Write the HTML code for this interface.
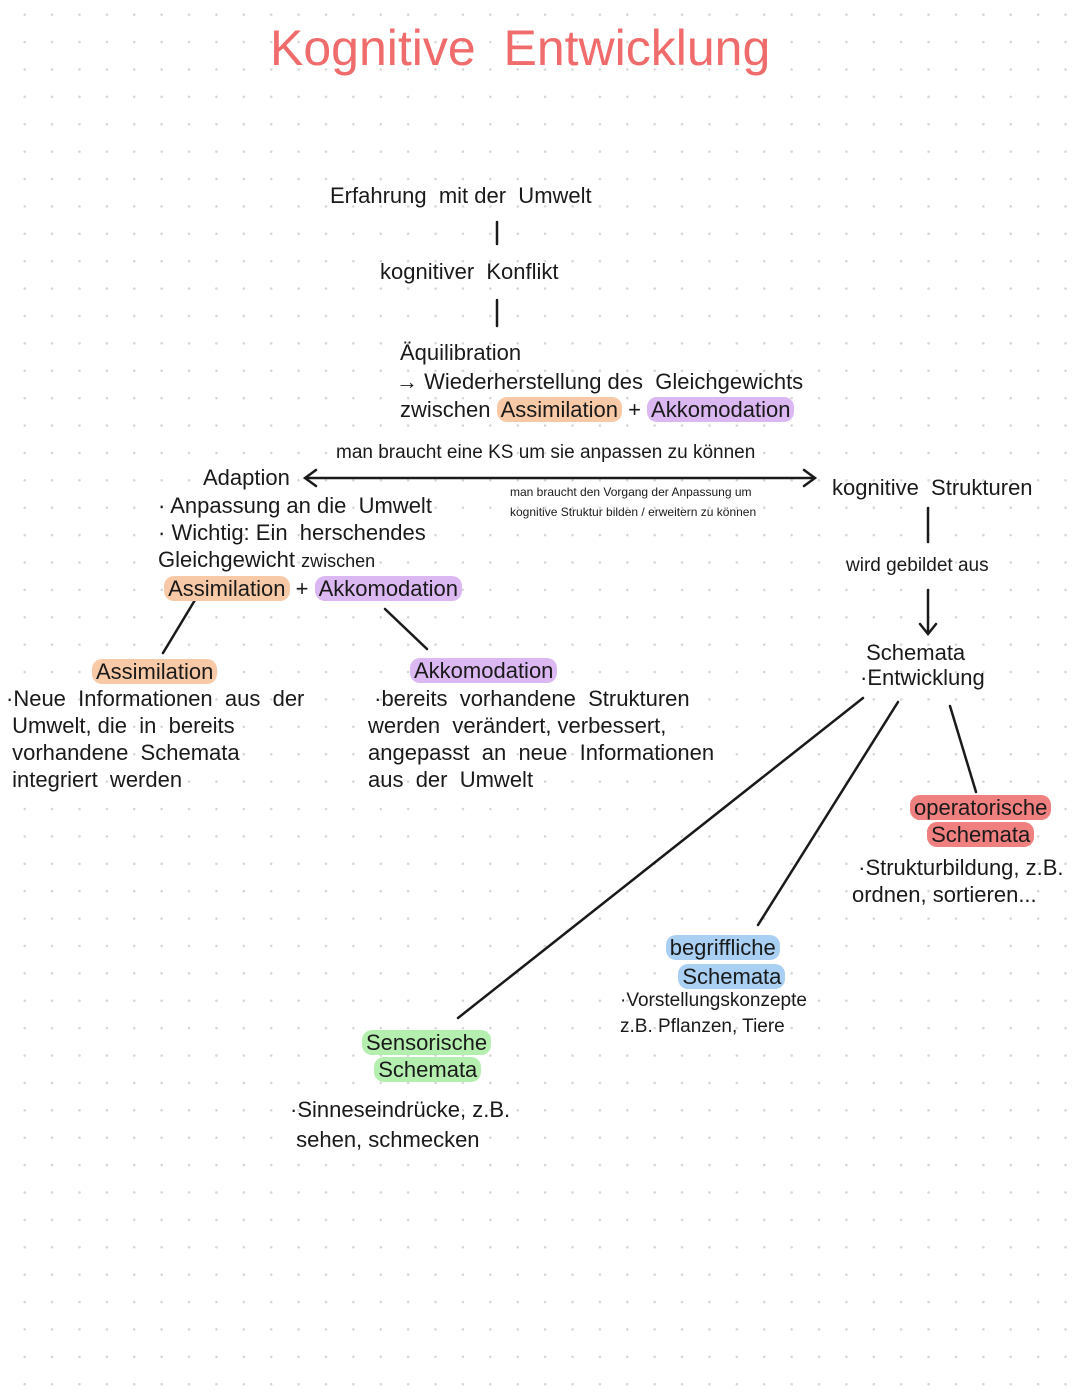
<!DOCTYPE html>
<html><head><meta charset="utf-8"><style>
html,body{margin:0;padding:0}
body{width:1080px;height:1394px;position:relative;overflow:hidden;background:#fff;
background-image:radial-gradient(circle,#d6d6d6 1.1px,transparent 1.5px);
background-size:27.4px 27.4px;background-position:11px 1px;
font-family:"Liberation Sans",sans-serif;color:#1a1a1a}
.t{position:absolute;white-space:nowrap;font-size:22px;line-height:26px}
.s{font-size:19px}
.xs{font-size:12px}
.h{border-radius:10px;padding:0 4px}
.or{background:#f8c9a6}.pu{background:#dcb8f2}.rd{background:#f07f7f}.bl{background:#a9d0f3}.gr{background:#b5efb0}
</style></head><body>
<div class="t" style="left:270px;top:16px;font-size:50px;line-height:64px;color:#f06b6b">Kognitive&nbsp; Entwicklung</div>

<svg width="1080" height="1394" style="position:absolute;left:0;top:0" fill="none" stroke="#1a1a1a" stroke-width="2.5" stroke-linecap="round">
<line x1="497" y1="222" x2="497" y2="244"/>
<line x1="497" y1="300" x2="497" y2="326"/>
<line x1="306" y1="478" x2="814" y2="478"/>
<polyline points="316,470 305,478 316,486"/>
<polyline points="804,470 815,478 804,486"/>
<line x1="928" y1="508" x2="928" y2="542"/>
<line x1="928" y1="590" x2="928" y2="632"/>
<polyline points="920,624 928,634 936,624"/>
<line x1="195" y1="600" x2="163" y2="653"/>
<line x1="385" y1="609" x2="427" y2="649"/>
<line x1="863" y1="698" x2="458" y2="1018"/>
<line x1="898" y1="702" x2="758" y2="925"/>
<line x1="950" y1="706" x2="976" y2="792"/>
</svg>

<div class="t" style="left:330px;top:183px">Erfahrung&nbsp; mit der&nbsp; Umwelt</div>
<div class="t" style="left:380px;top:259px">kognitiver&nbsp; Konflikt</div>
<div class="t" style="left:400px;top:340px">Äquilibration</div>
<div class="t" style="left:396px;top:369px">→ Wiederherstellung des&nbsp; Gleichgewichts</div>
<div class="t" style="left:400px;top:397px">zwischen <span class="h or">Assimilation</span> + <span class="h pu">Akkomodation</span></div>
<div class="t s" style="left:336px;top:440px">man braucht eine KS um sie anpassen zu können</div>
<div class="t xs" style="left:510px;top:482px;line-height:20px">man braucht den Vorgang der Anpassung um<br>kognitive Struktur bilden / erweitern zu können</div>
<div class="t" style="left:203px;top:465px">Adaption</div>
<div class="t" style="left:158px;top:492px;line-height:27px">· Anpassung an die&nbsp; Umwelt<br>· Wichtig: Ein&nbsp; herschendes<br>Gleichgewicht <span style="font-size:18px">zwischen</span><br>&nbsp;<span class="h or">Assimilation</span> + <span class="h pu">Akkomodation</span></div>
<div class="t" style="left:832px;top:475px">kognitive&nbsp; Strukturen</div>
<div class="t s" style="left:846px;top:553px">wird gebildet aus</div>
<div class="t" style="left:860px;top:640px;line-height:25px">&nbsp;Schemata<br>·Entwicklung</div>
<div class="t" style="left:92px;top:659px"><span class="h or">Assimilation</span></div>
<div class="t" style="left:6px;top:685px;line-height:27px">·Neue&nbsp; Informationen&nbsp; aus&nbsp; der<br>&nbsp;Umwelt, die&nbsp; in&nbsp; bereits<br>&nbsp;vorhandene&nbsp; Schemata<br>&nbsp;integriert&nbsp; werden</div>
<div class="t" style="left:410px;top:658px"><span class="h pu">Akkomodation</span></div>
<div class="t" style="left:368px;top:685px;line-height:27px">&nbsp;·bereits&nbsp; vorhandene&nbsp; Strukturen<br>werden&nbsp; verändert, verbessert,<br>angepasst&nbsp; an&nbsp; neue&nbsp; Informationen<br>aus&nbsp; der&nbsp; Umwelt</div>
<div class="t" style="left:910px;top:794px;line-height:27px;text-align:center"><span class="h rd">operatorische</span><br><span class="h rd">Schemata</span></div>
<div class="t" style="left:852px;top:854px;line-height:27px">&nbsp;·Strukturbildung, z.B.<br>ordnen, sortieren...</div>
<div class="t" style="left:660px;top:933px;line-height:29px;text-align:center"><span class="h bl">begriffliche</span><br>&nbsp;&nbsp;&nbsp;<span class="h bl">Schemata</span></div>
<div class="t s" style="left:620px;top:988px;line-height:26px">·Vorstellungskonzepte<br>z.B. Pflanzen, Tiere</div>
<div class="t" style="left:362px;top:1029px;line-height:27px"><span class="h gr">Sensorische</span><br>&nbsp;&nbsp;<span class="h gr">Schemata</span></div>
<div class="t" style="left:290px;top:1095px;line-height:30px">·Sinneseindrücke, z.B.<br>&nbsp;sehen, schmecken</div>
</body></html>
